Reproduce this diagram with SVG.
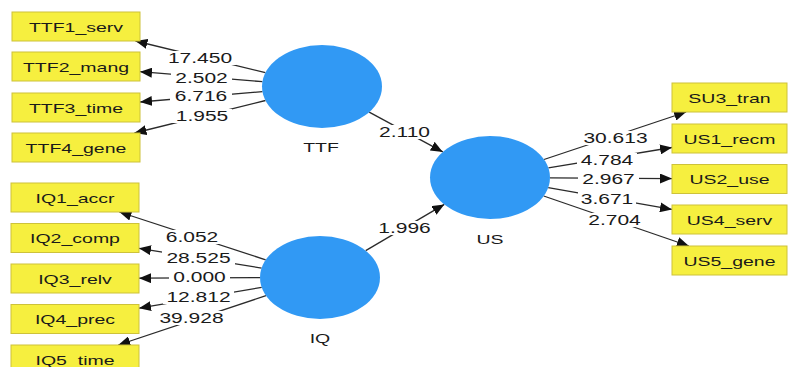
<svg xmlns="http://www.w3.org/2000/svg" width="791" height="367" viewBox="0 0 791 367">
<style>
.box{fill:#f6ef3f;stroke:#cdc23a;stroke-width:1}
.lat{fill:#3199f4}
.lbl{font-family:"Liberation Sans",Arial,sans-serif;font-size:13px;fill:#1a1a1a;text-anchor:middle}
.num{font-family:"Liberation Sans",Arial,sans-serif;font-size:14px;fill:#1a1a1a;text-anchor:middle}
.edge{stroke:#2a2a2a;stroke-width:1.3;fill:none;marker-end:url(#arr)}
.bg{fill:#ffffff}
</style>
<defs>
<marker id="arr" markerUnits="userSpaceOnUse" markerWidth="12" markerHeight="10" viewBox="0 0 12 10" refX="12" refY="5" orient="auto">
<path d="M0,0 L12,5 L0,10 z" fill="#111"/>
</marker>
</defs>
<rect width="791" height="367" fill="#ffffff"/>
<g id="connectors">
<line class="edge" x1="265.4" y1="72.7" x2="135.5" y2="41"/>
<line class="edge" x1="262.4" y1="81.7" x2="140" y2="71.7"/>
<line class="edge" x1="262.5" y1="91.6" x2="140" y2="102"/>
<line class="edge" x1="265.5" y1="100.5" x2="134.5" y2="133"/>
<line class="edge" x1="265.7" y1="259.8" x2="119.4" y2="212"/>
<line class="edge" x1="261.6" y1="268.1" x2="139" y2="248.3"/>
<line class="edge" x1="260" y1="277.7" x2="139" y2="278.2"/>
<line class="edge" x1="261.7" y1="287.4" x2="139" y2="308.2"/>
<line class="edge" x1="266" y1="295.6" x2="118.3" y2="345"/>
<line class="edge" x1="369.2" y1="112.1" x2="442.8" y2="151.9"/>
<line class="edge" x1="365.7" y1="250.6" x2="444.3" y2="204.4"/>
<line class="edge" x1="544" y1="159.5" x2="686.1" y2="112"/>
<line class="edge" x1="548.4" y1="167.9" x2="672" y2="147.5"/>
<line class="edge" x1="550" y1="177.9" x2="672" y2="178.6"/>
<line class="edge" x1="548.2" y1="187.7" x2="672" y2="209.4"/>
<line class="edge" x1="543.7" y1="196" x2="688.9" y2="246"/>
<g id="edge-labels">
<rect class="bg" x="164" y="51" width="72" height="14"/><text class="num" transform="translate(200,63) scale(1.5,1)">17.450</text>
<rect class="bg" x="171" y="71" width="61" height="14"/><text class="num" transform="translate(201.5,83) scale(1.5,1)">2.502</text>
<rect class="bg" x="170" y="89" width="62" height="14"/><text class="num" transform="translate(201,101) scale(1.5,1)">6.716</text>
<rect class="bg" x="172" y="109" width="60" height="14"/><text class="num" transform="translate(202,121) scale(1.5,1)">1.955</text>
<rect class="bg" x="162" y="230" width="60" height="14"/><text class="num" transform="translate(192,242) scale(1.5,1)">6.052</text>
<rect class="bg" x="162" y="251" width="73" height="14"/><text class="num" transform="translate(198.5,263) scale(1.5,1)">28.525</text>
<rect class="bg" x="169" y="270" width="61" height="14"/><text class="num" transform="translate(199.5,282) scale(1.5,1)">0.000</text>
<rect class="bg" x="163" y="290" width="71" height="14"/><text class="num" transform="translate(198.5,302) scale(1.5,1)">12.812</text>
<rect class="bg" x="155" y="311" width="73" height="14"/><text class="num" transform="translate(191.5,323) scale(1.5,1)">39.928</text>
<rect class="bg" x="374" y="125" width="61" height="14"/><text class="num" transform="translate(404.5,137) scale(1.5,1)">2.110</text>
<rect class="bg" x="375" y="221" width="59" height="14"/><text class="num" transform="translate(404.5,233) scale(1.5,1)">1.996</text>
<rect class="bg" x="579" y="131" width="73" height="14"/><text class="num" transform="translate(615.5,143) scale(1.5,1)">30.613</text>
<rect class="bg" x="577" y="153" width="60" height="14"/><text class="num" transform="translate(607,165) scale(1.5,1)">4.784</text>
<rect class="bg" x="578" y="171.5" width="61" height="14"/><text class="num" transform="translate(608.5,183.5) scale(1.5,1)">2.967</text>
<rect class="bg" x="578" y="191.5" width="58" height="14"/><text class="num" transform="translate(607,203.5) scale(1.5,1)">3.671</text>
<rect class="bg" x="584" y="213" width="61" height="14"/><text class="num" transform="translate(614.5,225) scale(1.5,1)">2.704</text>
</g>
</g>
<g id="TTF"><ellipse class="lat" cx="322" cy="86.5" rx="60" ry="41.5"/><text class="lbl" transform="translate(321,152) scale(1.5,1)">TTF</text></g>
<g id="IQ"><ellipse class="lat" cx="320" cy="277.5" rx="60" ry="41.5"/><text class="lbl" transform="translate(320,343) scale(1.5,1)">IQ</text></g>
<g id="US"><ellipse class="lat" cx="490" cy="177.5" rx="60" ry="41.5"/><text class="lbl" transform="translate(490,244) scale(1.5,1)">US</text></g>
<g id="TTF1_serv"><rect class="box" x="12" y="12" width="128" height="29"/><text class="lbl" transform="translate(76,31.5) scale(1.5,1)">TTF1_serv</text></g>
<g id="TTF2_mang"><rect class="box" x="12" y="52" width="128" height="29"/><text class="lbl" transform="translate(76,71.5) scale(1.5,1)">TTF2_mang</text></g>
<g id="TTF3_time"><rect class="box" x="12" y="93" width="128" height="29"/><text class="lbl" transform="translate(76,112.5) scale(1.5,1)">TTF3_time</text></g>
<g id="TTF4_gene"><rect class="box" x="12" y="133" width="128" height="29"/><text class="lbl" transform="translate(76,152.5) scale(1.5,1)">TTF4_gene</text></g>
<g id="IQ1_accr"><rect class="box" x="11" y="183" width="128" height="29"/><text class="lbl" transform="translate(75,202.5) scale(1.5,1)">IQ1_accr</text></g>
<g id="IQ2_comp"><rect class="box" x="11" y="223.5" width="128" height="29"/><text class="lbl" transform="translate(75,243) scale(1.5,1)">IQ2_comp</text></g>
<g id="IQ3_relv"><rect class="box" x="11" y="264" width="128" height="29"/><text class="lbl" transform="translate(75,283.5) scale(1.5,1)">IQ3_relv</text></g>
<g id="IQ4_prec"><rect class="box" x="11" y="304.5" width="128" height="29"/><text class="lbl" transform="translate(75,324) scale(1.5,1)">IQ4_prec</text></g>
<g id="IQ5_time"><rect class="box" x="11" y="345" width="128" height="29"/><text class="lbl" transform="translate(75,364.5) scale(1.5,1)">IQ5_time</text></g>
<g id="SU3_tran"><rect class="box" x="672" y="83" width="115" height="29"/><text class="lbl" transform="translate(729.5,102.5) scale(1.5,1)">SU3_tran</text></g>
<g id="US1_recm"><rect class="box" x="672" y="124" width="115" height="29"/><text class="lbl" transform="translate(729.5,143.5) scale(1.5,1)">US1_recm</text></g>
<g id="US2_use"><rect class="box" x="672" y="164.5" width="115" height="29"/><text class="lbl" transform="translate(729.5,184) scale(1.5,1)">US2_use</text></g>
<g id="US4_serv"><rect class="box" x="672" y="205" width="115" height="29"/><text class="lbl" transform="translate(729.5,224.5) scale(1.5,1)">US4_serv</text></g>
<g id="US5_gene"><rect class="box" x="672" y="246" width="115" height="29"/><text class="lbl" transform="translate(729.5,265.5) scale(1.5,1)">US5_gene</text></g>
</svg>
